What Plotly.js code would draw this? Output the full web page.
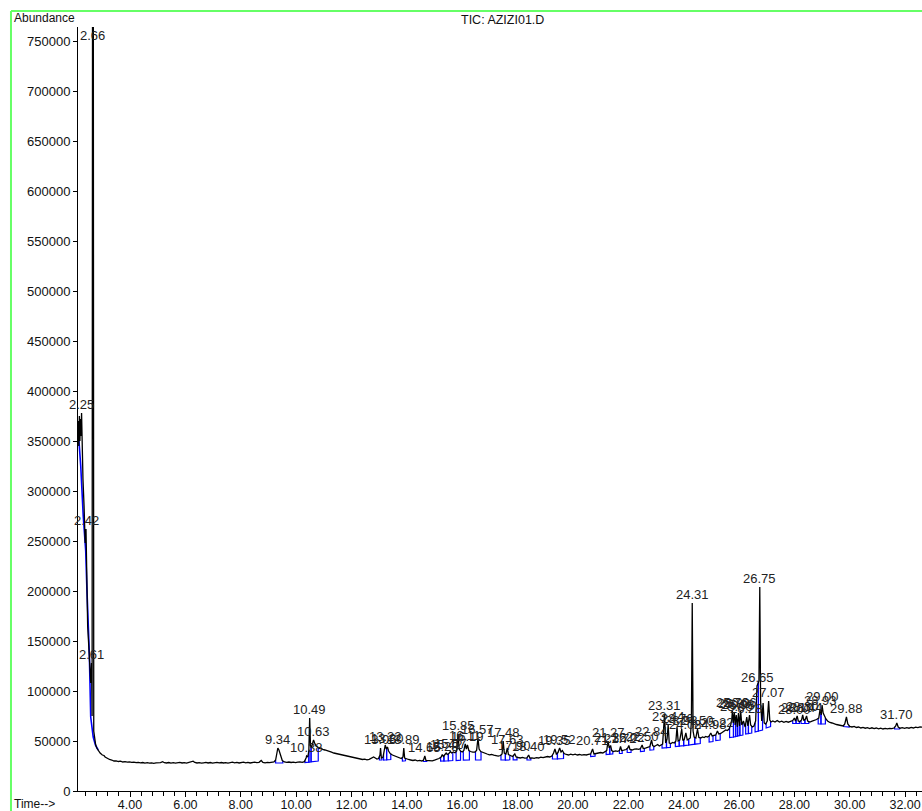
<!DOCTYPE html>
<html>
<head>
<meta charset="utf-8">
<script src="https://cdn.plot.ly/plotly-3.0.1.min.js"></script>
<style>html,body{margin:0;padding:0;background:#fff;}#chart{width:922px;height:811px;}</style>
</head>
<body>
<div id="chart"></div>
<script>
// Retention time (min)
const time = [
2.13,2.15,2.17,2.19,2.21,2.23,2.25,2.27,2.30,2.34,2.38,2.41,2.44,2.47,2.50,2.55,2.58,2.61,2.63,2.645,2.675,2.69,2.72,2.76,
2.80,2.86,2.92,3.00,3.06,3.10,3.18,3.26,3.34,3.42,3.50,3.58,3.66,3.74,3.82,3.90,3.98,4.06,4.14,4.22,4.30,4.38,4.46,4.54,4.62,4.70,4.78,4.86,4.94,
5.02,5.10,5.18,5.24,5.32,5.40,5.48,5.56,5.64,5.72,5.80,5.88,5.96,6.04,6.12,6.20,6.28,6.34,6.42,6.50,6.58,6.66,6.74,6.82,6.90,6.98,
7.06,7.14,7.22,7.30,7.38,7.46,7.54,7.62,7.70,7.78,7.86,7.94,8.02,8.10,8.18,8.26,8.34,8.42,8.50,8.58,8.66,8.74,8.80,8.88,8.96,
9.04,9.12,9.20,9.26,9.30,9.34,9.38,9.44,9.50,9.58,9.66,9.74,9.82,9.90,9.98,10.06,10.14,10.22,10.30,10.36,10.38,10.42,10.46,10.49,10.52,10.56,10.60,10.63,10.67,10.72,10.78,10.84,10.90,10.96,
11.04,11.12,11.20,11.28,11.36,11.44,11.52,11.60,11.68,11.76,11.84,11.92,12.00,12.08,12.16,12.24,12.32,12.40,12.48,12.56,12.64,12.72,12.80,12.86,12.92,12.98,
13.03,13.05,13.08,13.14,13.19,13.22,13.26,13.30,13.34,13.40,13.48,13.56,13.64,13.72,13.80,13.86,13.89,13.92,13.98,14.06,14.14,14.22,14.30,14.38,14.46,14.54,14.60,14.65,14.69,14.76,14.84,14.92,
15.00,15.08,15.16,15.24,15.28,15.32,15.38,15.42,15.46,15.52,15.57,15.62,15.68,15.74,15.80,15.85,15.89,15.94,16.00,16.06,16.11,16.15,16.19,16.24,16.30,16.38,16.46,16.52,16.57,16.61,16.67,16.74,16.82,16.90,16.98,
17.06,17.14,17.22,17.30,17.38,17.44,17.48,17.52,17.58,17.63,17.67,17.74,17.82,17.90,17.95,18.02,18.10,18.18,18.26,18.34,18.40,18.45,18.52,18.60,18.68,18.76,18.84,18.92,
19.00,19.08,19.16,19.24,19.30,19.35,19.40,19.46,19.52,19.57,19.62,19.68,19.76,19.84,19.92,20.00,20.08,20.16,20.24,20.32,20.40,20.48,20.56,20.64,20.71,20.76,20.84,20.92,
21.00,21.08,21.16,21.22,21.27,21.31,21.36,21.40,21.46,21.54,21.62,21.68,21.72,21.76,21.84,21.92,21.98,22.02,22.06,22.14,22.22,22.30,22.38,22.44,22.50,22.54,22.62,22.70,22.78,22.84,22.88,22.94,
23.00,23.06,23.12,23.18,23.24,23.31,23.35,23.40,23.44,23.48,23.54,23.60,23.66,23.72,23.76,23.80,23.86,23.93,23.97,24.02,24.08,24.13,24.18,24.24,24.28,24.31,24.34,24.38,24.44,24.50,24.55,24.62,24.68,24.74,24.80,24.86,24.92,24.98,
25.03,25.10,25.16,25.22,25.27,25.34,25.40,25.46,25.52,25.58,25.64,25.70,25.74,25.76,25.79,25.83,25.86,25.90,25.94,25.98,26.02,26.06,26.10,26.16,26.22,26.28,26.32,26.38,26.42,26.48,26.54,26.60,26.65,26.72,26.75,26.78,26.82,26.87,26.91,26.96,
27.02,27.07,27.11,27.16,27.22,27.30,27.38,27.46,27.54,27.62,27.70,27.78,27.86,27.94,28.00,28.04,28.10,28.14,28.20,28.26,28.30,28.34,28.40,28.44,28.48,28.56,28.64,28.72,28.80,28.88,28.93,28.97,
29.00,29.04,29.08,29.14,29.20,29.28,29.36,29.44,29.52,29.60,29.68,29.76,29.82,29.88,29.93,30.00,30.08,30.16,30.24,30.32,30.40,30.48,30.56,30.64,30.72,30.80,30.88,30.96,
31.04,31.12,31.20,31.28,31.36,31.44,31.52,31.60,31.66,31.70,31.75,31.82,31.90,31.98,32.06,32.14,32.22,32.30,32.38,32.46,32.54,32.62
];
// Total ion current abundance
const abundance = [
370000,345000,375000,350000,372000,355000,378000,340000,312000,285000,248000,262000,190000,165000,150000,122000,108000,128000,75000,770000,770000,60000,52000,46000,
43000,40000,38000,36000,35500,34000,32500,31500,31000,30000,30200,29500,29800,29000,29400,28800,29200,28600,28900,28300,28700,28100,28500,27900,28300,27800,28200,27700,28100,
27900,28400,29300,28300,28000,28500,27900,28300,27800,28200,28600,28000,28400,27900,28300,28800,29800,28500,28000,28400,27800,28200,28600,28000,28500,27900,
28300,28700,28100,28500,28000,28400,27900,28300,28800,28200,28600,28000,28400,28800,28200,28600,28000,28400,28800,28300,28700,30500,28600,28200,28700,
28300,28800,29000,31000,38000,43000,41000,35000,30500,29000,28600,29000,28500,28900,28400,28800,29200,28700,29400,33000,35000,34000,40000,73000,45000,44000,47000,51000,48000,45000,44000,42500,43000,41500,
41000,40000,39500,38800,38000,37500,37000,36200,35800,35000,34800,34000,33600,33000,32800,32200,32000,31500,31800,31200,31600,32500,34000,33000,32000,32500,
36000,43000,33000,34000,40000,46000,42000,44000,40000,37500,36000,35000,34000,33200,32500,34000,43000,33000,32000,31500,31000,30500,31000,30200,30600,30000,30800,35000,30500,30200,30600,30100,
30800,31500,32500,34000,36500,34500,36000,38000,36500,37500,39500,38000,39000,38200,40000,57000,42000,40000,39000,40500,47000,42000,46000,40500,39500,38800,39000,40500,53000,42000,39500,38500,37500,37000,36200,
36500,35800,35200,34800,35500,37000,50000,38000,37000,43000,36500,35500,34500,37000,34000,33500,33000,33600,32800,33200,36000,32800,33200,32600,33400,33000,33800,33300,
34000,34500,34000,35000,38000,42000,37000,38500,43000,39000,40500,37500,36500,36000,36800,36200,36800,36000,36500,35800,36300,36000,36600,37000,42000,37000,37500,38000,
38500,38000,39000,40500,50000,43000,45500,40500,39500,40200,39700,40500,44500,40500,40800,41500,43000,45500,41500,41000,41800,42200,41700,42500,46000,42500,42800,43500,44500,51000,45500,44500,
45500,46500,45000,46000,47000,77000,48000,52000,66000,48000,47500,48500,48000,50000,64000,50000,51000,62000,50500,51500,58000,51000,52000,53000,70000,188000,60000,54000,53000,62000,53500,53000,54000,53500,54500,54000,55000,58000,
55000,55500,56000,60000,57000,57500,58500,59500,61000,60500,62000,66000,72000,80000,68000,79000,66000,76000,64000,78000,65000,80000,66000,70000,64000,74000,65000,76000,66000,64000,65000,70000,105000,110000,204000,90000,70000,88000,68000,67000,
70000,90000,71000,69000,70000,69000,70500,69000,69800,68600,69500,68800,69600,70500,73000,70000,75000,70000,69500,71000,76000,70500,72000,75000,70000,69000,69800,70500,71500,73000,82000,76000,
86000,78000,75000,72000,70000,68500,68000,67000,66500,66000,65500,65000,67000,74000,67000,64500,64000,64600,63500,64000,63000,63600,62800,63400,62500,63200,62400,63000,
62200,62800,62000,62600,62100,62700,62300,63000,65000,68000,64000,62800,63300,62600,63400,62800,63600,63000,63800,63300,64000,63800
];
// Integration events: start time, end time, baseline level at start and end
const integStart = [9.26,10.32,10.46,10.54,13.01,13.16,13.27,13.84,14.60,15.22,15.34,15.50,15.78,16.04,16.48,17.40,17.56,17.84,18.34,19.26,19.44,20.64,21.20,21.33,21.68,21.96,22.44,22.78,23.22,23.38,23.70,23.84,24.00,24.18,24.40,24.92,25.16,25.66,25.80,25.88,25.95,26.03,26.24,26.34,26.58,26.70,26.98,27.94,28.06,28.24,28.38,28.86,28.96,29.78,31.62];
const integEnd   = [9.52,10.46,10.54,10.80,13.10,13.27,13.42,13.95,14.72,15.34,15.50,15.66,15.94,16.26,16.68,17.56,17.72,17.98,18.48,19.44,19.66,20.80,21.33,21.44,21.78,22.10,22.58,22.92,23.38,23.52,23.84,24.00,24.18,24.40,24.60,25.06,25.32,25.80,25.88,25.95,26.03,26.14,26.34,26.46,26.70,26.85,27.14,28.06,28.18,28.38,28.52,28.96,29.12,29.98,31.80];
const baseStart  = [28000,28500,28800,29200,31000,31000,31200,30000,29500,29800,30000,30200,30500,30800,31000,31000,31000,31200,31000,32000,32200,34500,36500,36800,37500,38500,39500,41000,43000,43300,44500,44800,45300,46000,46800,49000,50500,53500,54000,54500,55000,55500,57000,57500,59000,60000,63000,67500,67500,67500,67500,67000,67000,64500,62000];
const baseEnd    = [28200,28800,29200,30000,31000,31200,31500,30200,29500,30000,30200,30500,30800,31000,31200,31000,31200,31200,31000,32200,32500,34800,36800,37000,37600,38600,39800,41200,43300,43600,44800,45300,46000,46800,47500,49500,51000,54000,54500,55000,55500,56000,57500,58000,60000,61000,64500,67500,67500,67500,67500,67000,67000,64000,62000];
// Solvent front integration line
const solventBlueT = [2.15,2.22,2.31,2.40,2.44,2.50,2.53,2.58,2.62,2.67,2.75,2.85];
const solventBlueY = [352000,325000,275000,240000,204000,165000,138000,74000,62000,54000,46000,41000];
// Labelled peaks (retention times)
const peakTimes = [2.25,2.42,2.61,2.66,9.34,10.38,10.49,10.63,13.05,13.22,13.30,13.89,14.65,15.28,15.42,15.57,15.85,16.11,16.19,16.57,17.48,17.63,17.90,18.40,19.35,19.52,20.71,21.27,21.36,21.72,22.02,22.50,22.84,23.31,23.44,23.76,23.93,24.08,24.31,24.50,24.98,25.22,25.76,25.83,25.90,25.98,26.06,26.28,26.65,26.75,27.07,28.00,28.10,28.30,28.44,28.93,29.00,29.88,31.70];
const xTicks = [4,6,8,10,12,14,16,18,20,22,24,26,28,30,32];
const yTicks = [0,50000,100000,150000,200000,250000,300000,350000,400000,450000,500000,550000,600000,650000,700000,750000];

function curveAt(t){
  for (let i=0;i<time.length-1;i++){
    if (t>=time[i] && t<=time[i+1]){
      const f=(t-time[i])/(time[i+1]-time[i]);
      return abundance[i]+f*(abundance[i+1]-abundance[i]);
    }
  }
  return abundance[abundance.length-1];
}
function peakMax(t){
  let m=-Infinity;
  for (let i=0;i<time.length;i++){ if (Math.abs(time[i]-t)<=0.025 && abundance[i]>m) m=abundance[i]; }
  return m===-Infinity?curveAt(t):m;
}

const bx=[], by=[];
for (let i=0;i<integStart.length;i++){
  bx.push(integStart[i],integStart[i],integEnd[i],integEnd[i],null);
  by.push(curveAt(integStart[i]),baseStart[i],baseEnd[i],curveAt(integEnd[i]),null);
}

const traces = [
  {x: solventBlueT, y: solventBlueY, mode:'lines', line:{color:'#0000ff', width:1.6}, hoverinfo:'skip'},
  {x: bx, y: by, mode:'lines', line:{color:'#0000ff', width:1.2}, connectgaps:false, hoverinfo:'skip'},
  {x: time, y: abundance, mode:'lines', line:{color:'#000000', width:1.3}}
];

const annotations = peakTimes.map(t=>{
  let y=peakMax(t), ya='bottom';
  if (y>740000){ y=756000; ya='middle'; }
  return {x:t, y:y, xref:'x', yref:'y', text:t.toFixed(2), showarrow:false, xanchor:'center', yanchor:ya, yshift: ya==='bottom'?-1:0,
    font:{family:'Liberation Sans, Arial, sans-serif', size:13, color:'#222'}};
});
annotations.push(
  {xref:'paper', yref:'paper', x:0.5024, y:1.009, text:'TIC: AZIZI01.D', showarrow:false, xanchor:'center', yanchor:'middle', font:{family:'Liberation Sans, Arial, sans-serif', size:12.5, color:'#111'}},
  {xref:'paper', yref:'paper', x:-0.0785, y:1.0118, text:'Abundance', showarrow:false, xanchor:'left', yanchor:'middle', font:{family:'Liberation Sans, Arial, sans-serif', size:12, color:'#111'}},
  {xref:'paper', yref:'paper', x:-0.0785, y:-0.0170, text:'Time-->', showarrow:false, xanchor:'left', yanchor:'middle', font:{family:'Liberation Sans, Arial, sans-serif', size:12, color:'#111'}}
);

const layout = {
  width:922, height:811,
  margin:{l:78, r:0, t:27, b:20, pad:0},
  paper_bgcolor:'#ffffff', plot_bgcolor:'#ffffff',
  showlegend:false,
  font:{family:'Liberation Sans, Arial, sans-serif', size:13, color:'#111'},
  xaxis:{range:[2.121,32.61], tickvals:xTicks, ticktext:xTicks.map(v=>v.toFixed(2)), ticks:'outside', ticklen:5, tickcolor:'#000', tickwidth:1,
    ticklabelstandoff:-3,
    minor:{dtick:0.4, tick0:0, ticks:'outside', ticklen:4, tickcolor:'#000', tickwidth:1, showgrid:false},
    showline:true, linecolor:'#000', linewidth:1, showgrid:false, zeroline:false, tickfont:{size:12.5}},
  yaxis:{range:[0,764000], tickvals:yTicks, ticktext:yTicks.map(v=>String(v)), ticks:'outside', ticklen:4, tickcolor:'#000', tickwidth:1,
    showline:true, linecolor:'#000', linewidth:1, showgrid:false, zeroline:false, tickfont:{size:13}},
  annotations: annotations,
  shapes:[
    {type:'line', xref:'paper', yref:'paper', x0:-0.0794, x1:1.01, y0:1.0209, y1:1.0209, line:{color:'#66ff66', width:2}},
    {type:'line', xref:'paper', yref:'paper', x0:-0.0794, x1:-0.0794, y0:1.0209, y1:-0.04, line:{color:'#66ff66', width:2}}
  ]
};
Plotly.newPlot('chart', traces, layout, {displayModeBar:false, staticPlot:true});
</script>
</body>
</html>
